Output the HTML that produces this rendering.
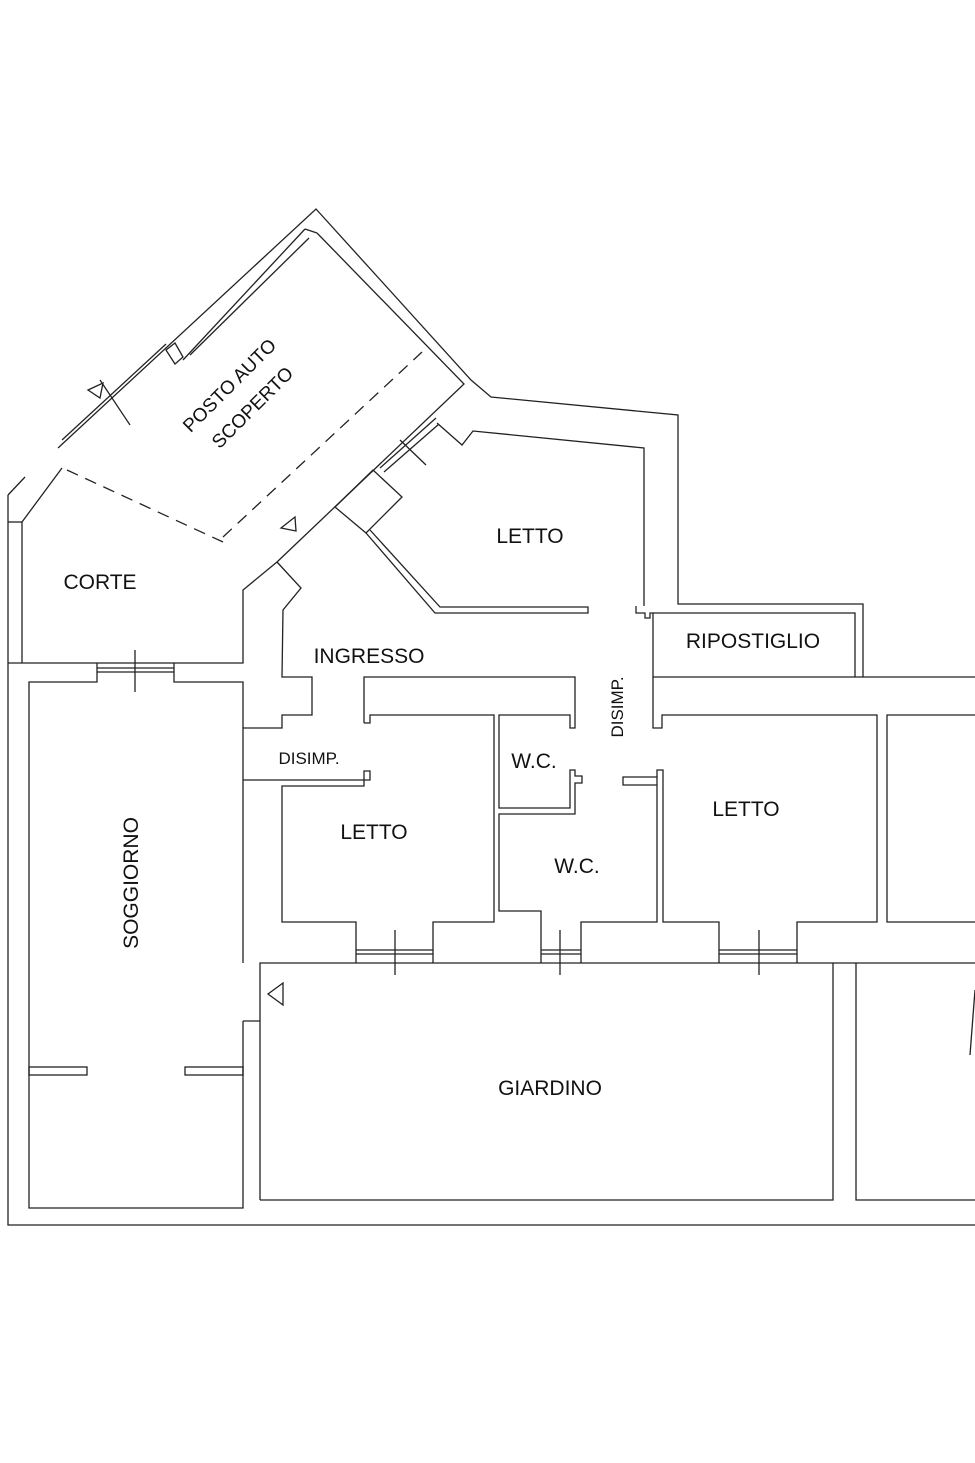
<!DOCTYPE html>
<html><head><meta charset="utf-8"><style>
html,body{margin:0;padding:0;background:#fff;}
svg{display:block}
text{font-family:"Liberation Sans",Arial,sans-serif;fill:#111;}
</style></head><body>
<svg width="975" height="1463" viewBox="0 0 975 1463" xmlns="http://www.w3.org/2000/svg">
<g fill="none" stroke="#222" stroke-width="1.3">
<polyline points="8,663 8,1225 975,1225"/>
<polyline points="260,1200 260,963 975,963"/>
<polyline points="243,1021 260,1021"/>
<polyline points="97,663 97,682 29,682 29,1208 243,1208 243,1021"/>
<polyline points="174,663 174,682 243,682 243,728"/>
<rect x="29" y="1067" width="58" height="8"/>
<rect x="185" y="1067" width="58" height="8"/>
<line x1="97" y1="668" x2="174" y2="668"/><line x1="97" y1="672" x2="174" y2="672"/>
<line x1="135" y1="650" x2="135" y2="692"/>
<polyline points="260,1200 833,1200 833,963"/>
<polyline points="856,963 856,1200 975,1200"/>
<polygon points="283,983 268,994 283,1005"/>
<line x1="975" y1="990" x2="970" y2="1055"/>
<polyline points="8,663 243,663 243,590 277,562"/>
<line x1="8" y1="495" x2="8" y2="663"/>
<line x1="22" y1="522" x2="22" y2="663"/>
<polyline points="8,495 25,477"/>
<polyline points="22,522 62,468"/>
<line x1="8" y1="522" x2="22" y2="522"/>
<polyline points="58,448 316,209 471,380 491,397 678,415 678,604 863,604 863,677"/>
<line x1="62" y1="440" x2="166" y2="344"/>
<line x1="183" y1="360" x2="305" y2="229"/>
<line x1="190" y1="355" x2="309" y2="238"/>
<polyline points="317,233 464,384 277,562"/>
<line x1="305" y1="229" x2="317" y2="233"/>
<polygon points="166,350 175,343 183,357 175,364"/>
<line x1="100" y1="380" x2="130" y2="425"/>
<polygon points="88,390 103,383 100,398"/>
<g stroke-dasharray="12,8">
<line x1="67" y1="470" x2="223" y2="542"/>
<line x1="223" y1="537" x2="422" y2="352"/>
</g>
<polygon points="295,517 281,528 296,531"/>
<line x1="380" y1="468" x2="436" y2="418"/>
<line x1="384" y1="472" x2="439" y2="424"/>
<line x1="400" y1="440" x2="426" y2="465"/>
<polygon points="335,507 366,533 402,497 373,470"/>
<polyline points="437,423 462,445 473,431 644,448 644,606"/>
<polyline points="366,533 435,613 588,613 588,607 440,607 370,530"/>
<polyline points="636,606 636,613 645,613 645,618 650,618 650,613 653,613 653,677 975,677"/>
<polyline points="653,613 855,613 855,677"/>
<polyline points="277,562 301,588 283,610 282,677 312,677 312,715 282,715 282,728 243,728 243,963"/>
<polyline points="243,780 370,780 370,771 364,771 364,786 282,786 282,922 356,922 356,963"/>
<polyline points="364,723 370,723 370,715 494,715 494,922 433,922 433,963"/>
<polyline points="364,723 364,677 575,677 575,728 570,728 570,715 499,715 499,808 570,808 570,770 575,770 575,776 582,776 582,783 575,783 575,814 499,814 499,911 541,911 541,963"/>
<polyline points="581,963 581,922 657,922 657,777 623,777 623,785 657,785"/>
<polyline points="657,777 657,770 663,770 663,922 719,922 719,963"/>
<polyline points="797,963 797,922 877,922 877,715 662,715 662,728 653,728 653,677"/>
<polyline points="975,715 887,715 887,922 975,922"/>
<line x1="356" y1="950" x2="433" y2="950"/><line x1="356" y1="954" x2="433" y2="954"/>
<line x1="395" y1="930" x2="395" y2="975"/>
<line x1="541" y1="950" x2="581" y2="950"/><line x1="541" y1="954" x2="581" y2="954"/>
<line x1="560" y1="930" x2="560" y2="975"/>
<line x1="719" y1="950" x2="797" y2="950"/><line x1="719" y1="954" x2="797" y2="954"/>
<line x1="759" y1="930" x2="759" y2="975"/>
</g>
<text x="530" y="543" font-size="21" text-anchor="middle">LETTO</text>
<text x="100" y="589" font-size="21" text-anchor="middle">CORTE</text>
<text x="369" y="663" font-size="21" text-anchor="middle">INGRESSO</text>
<text x="753" y="648" font-size="21" text-anchor="middle">RIPOSTIGLIO</text>
<text x="309" y="764" font-size="17" text-anchor="middle">DISIMP.</text>
<text x="534" y="768" font-size="21" text-anchor="middle">W.C.</text>
<text x="577" y="873" font-size="21" text-anchor="middle">W.C.</text>
<text x="374" y="839" font-size="21" text-anchor="middle">LETTO</text>
<text x="746" y="816" font-size="21" text-anchor="middle">LETTO</text>
<text x="550" y="1095" font-size="21" text-anchor="middle">GIARDINO</text>
<text transform="translate(138,883) rotate(-90)" font-size="21" text-anchor="middle">SOGGIORNO</text>
<text transform="translate(623,707) rotate(-90)" font-size="17" text-anchor="middle">DISIMP.</text>
<text transform="translate(234,390) rotate(-45)" font-size="19" text-anchor="middle">POSTO AUTO</text>
<text transform="translate(257,412) rotate(-45)" font-size="19" text-anchor="middle">SCOPERTO</text>
</svg>
</body></html>
